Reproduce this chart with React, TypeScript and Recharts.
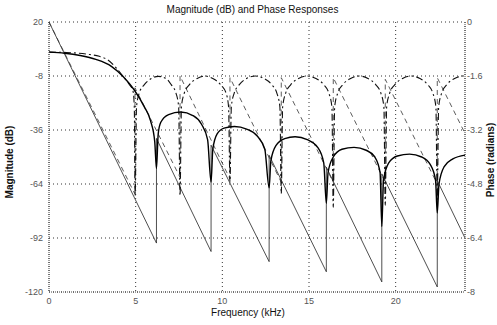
import { CartesianGrid, Line, LineChart, XAxis, YAxis } from "recharts";

const freqTicks = [0, 5, 10, 15, 20];
const magTicks = [-120, -92, -64, -36, -8, 20];
const phaseTicks = [-8, -6.4, -4.8, -3.2, -1.6, 0];

// filter 1 magnitude (solid)
const mag1Freq = [
  0, 0.9, 1.8, 2.7, 3.6, 4.3, 4.9, 5.5, 5.85, 6.1, 6.2, 6.3, 6.45, 6.9, 7.6, 8.3, 8.8, 9.15, 9.35, 9.45, 9.7, 10.1,
  10.7, 11.4, 12.0, 12.45, 12.7, 12.8, 13.1, 13.6, 14.2, 14.9, 15.5, 15.85, 16.0, 16.1, 16.4, 16.9, 17.6, 18.3, 18.8,
  19.1, 19.2, 19.3, 19.6, 20.1, 20.8, 21.5, 22.0, 22.3, 22.4, 22.5, 22.8, 23.3, 24,
];
const mag1Db = [
  4.4, 3.8, 2.6, 0.6, -3.0, -8.5, -15, -24, -31, -42, -56, -38, -32, -28, -26.7, -28.5, -33, -41, -63, -46, -38, -35,
  -34.2, -35.5, -39, -46, -66, -52, -44, -40.5, -39.5, -41, -45, -53, -74, -58, -50, -46, -45, -46.5, -50, -58, -86,
  -62, -53, -49.5, -48.5, -50, -54, -62, -79, -64, -55, -51, -49,
];

// filter 2 magnitude (dash-dot)
const mag2Freq = [
  0, 1.0, 2.2, 2.9, 3.4, 3.9, 4.3, 4.6, 4.85, 4.92, 4.97, 5.05, 5.2, 5.5, 5.9, 6.3, 6.75, 7.05, 7.33, 7.48, 7.56, 7.64,
  7.8, 8.1, 8.55, 9.0, 9.45, 9.9, 10.22, 10.36, 10.44, 10.52, 10.68, 10.98, 11.4, 11.9, 12.4, 12.85, 13.15, 13.32, 13.4,
  13.48, 13.65, 13.95, 14.4, 14.9, 15.4, 15.85, 16.15, 16.32, 16.4, 16.48, 16.65, 16.95, 17.4, 17.9, 18.4, 18.85,
  19.15, 19.32, 19.4, 19.48, 19.65, 19.95, 20.4, 20.9, 21.4, 21.85, 22.15, 22.32, 22.4, 22.48, 22.65, 22.95, 23.4,
  23.9, 24,
];
const mag2Db = [
  4.4, 4.2, 3.3, 2.2, 0.3, -4, -8.5, -12, -16, -24, -70, -24, -17, -12.5, -9.3, -8.2, -9.3, -12.5, -17, -24, -70, -24,
  -17, -12.5, -9.3, -8, -9.3, -12.5, -17, -24, -63, -24, -17, -12.5, -9.3, -8, -9.3, -12.5, -17, -24, -69, -24, -17,
  -12.5, -9.3, -8, -9.3, -12.5, -17, -24, -76, -24, -17, -12.5, -9.3, -8, -9.3, -12.5, -17, -24, -75, -24, -17, -12.5,
  -9.3, -8, -9.3, -12.5, -17, -24, -72, -24, -17, -12.5, -9.3, -8, -8.1,
];

// filter 1 phase (thin solid)
const phase1Freq = [0, 6.2, 6.2, 9.35, 9.35, 12.7, 12.7, 16.0, 16.0, 19.2, 19.2, 22.4, 22.4, 24];
const phase1Rad = [0, -6.55, -3.45, -6.8, -3.65, -7.1, -3.95, -7.4, -4.3, -7.7, -4.5, -7.85, -4.7, -6.4];

// filter 2 phase (dashed)
const phase2Freq = [0, 4.96, 4.96, 7.56, 7.56, 10.44, 10.44, 13.4, 13.4, 16.4, 16.4, 19.4, 19.4, 22.4, 22.4, 24];
const phase2Rad = [0, -5.1, -1.95, -4.6, -1.6, -4.65, -1.65, -4.75, -1.65, -4.75, -1.65, -4.75, -1.7, -4.8, -1.65, -3.3];

const pts = (xs: number[], ys: number[]) => xs.map((f, i) => ({ f, v: ys[i] }));
const mag1 = pts(mag1Freq, mag1Db);
const mag2 = pts(mag2Freq, mag2Db);
const phase1 = pts(phase1Freq, phase1Rad);
const phase2 = pts(phase2Freq, phase2Rad);

const font = "'Liberation Sans', Arial, sans-serif";
const tick = { fontSize: 9, fill: "#555", fontFamily: font };
const axisLine = { stroke: "#444", strokeDasharray: "1 1" };

export default function App() {
  return (
    <div style={{ position: "absolute", left: 0, top: 0, width: 497, height: 325, background: "#fff", fontFamily: font }}>
      <LineChart width={497} height={325} margin={{ top: 22, right: 0, bottom: 0, left: 0 }}>
        <CartesianGrid yAxisId="mag" stroke="#333" strokeDasharray="1 3" />
        <XAxis
          dataKey="f"
          type="number"
          domain={[0, 24]}
          ticks={freqTicks}
          height={33}
          tick={tick}
          tickLine={false}
          tickSize={4}
          tickMargin={2}
          axisLine={axisLine}
          allowDuplicatedCategory
        />
        <YAxis
          yAxisId="mag"
          orientation="left"
          type="number"
          domain={[-120, 20]}
          ticks={magTicks}
          width={49}
          tick={tick}
          tickLine={false}
          tickSize={4}
          tickMargin={2}
          axisLine={axisLine}
        />
        <YAxis
          yAxisId="phase"
          orientation="right"
          type="number"
          domain={[-8, 0]}
          ticks={phaseTicks}
          width={32}
          tick={{ ...tick, textAnchor: "start" }}
          tickLine={false}
          tickSize={1}
          tickMargin={1}
          axisLine={axisLine}
        />
        <Line yAxisId="phase" data={phase1} dataKey="v" type="linear" stroke="#222" strokeWidth={0.8} dot={false} activeDot={false} isAnimationActive={false} />
        <Line yAxisId="phase" data={phase2} dataKey="v" type="linear" stroke="#333" strokeWidth={0.8} strokeDasharray="5 4" dot={false} activeDot={false} isAnimationActive={false} />
        <Line yAxisId="mag" data={mag2} dataKey="v" type="monotone" stroke="#111" strokeWidth={1.1} strokeDasharray="7 3 2 3" dot={false} activeDot={false} isAnimationActive={false} />
        <Line yAxisId="mag" data={mag1} dataKey="v" type="monotone" stroke="#000" strokeWidth={1.4} dot={false} activeDot={false} isAnimationActive={false} />
      </LineChart>
      <div style={{ position: "absolute", left: 0, width: 505, top: 4, textAlign: "center", fontSize: 10, color: "#111" }}>
        Magnitude (dB) and Phase Responses
      </div>
      <div style={{ position: "absolute", left: 0, width: 496, top: 307, textAlign: "center", fontSize: 10, color: "#111" }}>
        Frequency (kHz)
      </div>
      <div
        style={{
          position: "absolute",
          left: 9,
          top: 162,
          transform: "translate(-50%, -50%) rotate(-90deg)",
          whiteSpace: "nowrap",
          fontSize: 10,
          fontWeight: "bold",
          color: "#111",
        }}
      >
        Magnitude (dB)
      </div>
      <div
        style={{
          position: "absolute",
          left: 490,
          top: 160,
          transform: "translate(-50%, -50%) rotate(-90deg)",
          whiteSpace: "nowrap",
          fontSize: 10,
          fontWeight: "bold",
          color: "#111",
        }}
      >
        Phase (radians)
      </div>
    </div>
  );
}
